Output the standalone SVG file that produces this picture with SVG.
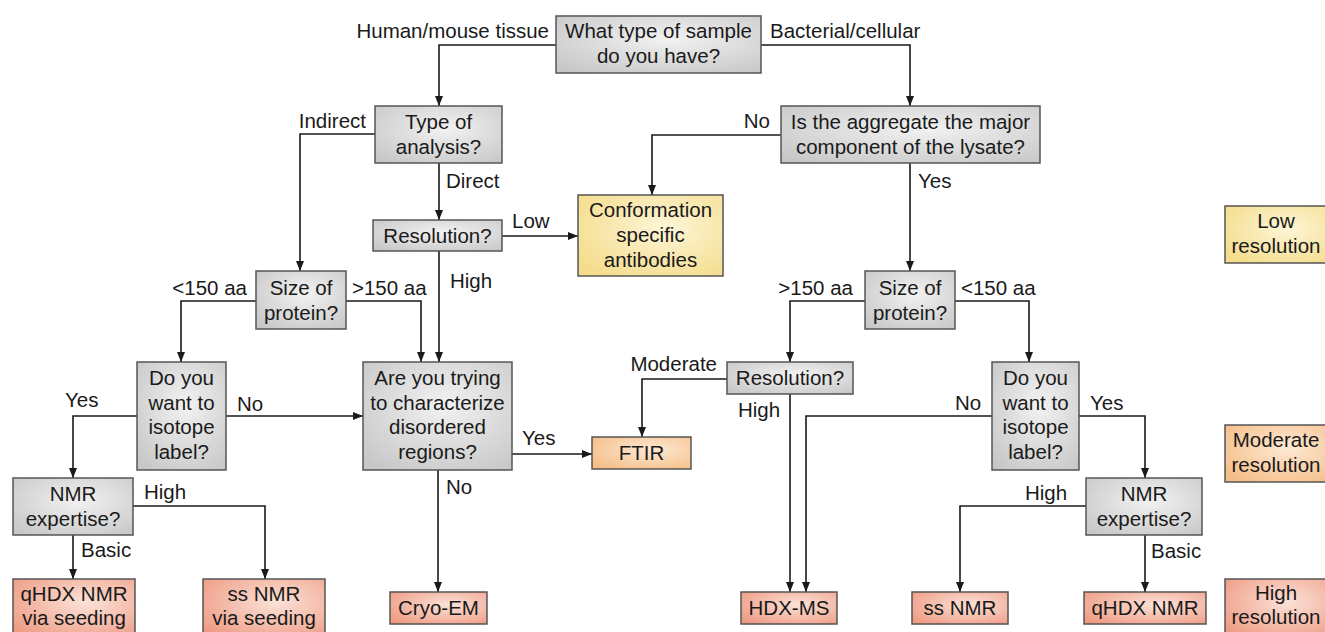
<svg xmlns="http://www.w3.org/2000/svg" width="1325" height="632" viewBox="0 0 1325 632">
<defs>
  <radialGradient id="gGray" cx="0.55" cy="0.4" r="0.75">
    <stop offset="0" stop-color="#f2f2f2"/>
    <stop offset="1" stop-color="#c6c6c6"/>
  </radialGradient>
  <radialGradient id="gYellow" cx="0.6" cy="0.4" r="0.75">
    <stop offset="0" stop-color="#fdf5d6"/>
    <stop offset="1" stop-color="#f4dc8a"/>
  </radialGradient>
  <radialGradient id="gOrange" cx="0.6" cy="0.4" r="0.75">
    <stop offset="0" stop-color="#fde9d4"/>
    <stop offset="1" stop-color="#f5bd86"/>
  </radialGradient>
  <radialGradient id="gSalmon" cx="0.6" cy="0.4" r="0.75">
    <stop offset="0" stop-color="#fbe2d8"/>
    <stop offset="1" stop-color="#ee9b83"/>
  </radialGradient>
  <marker id="arr" markerWidth="10" markerHeight="8" refX="10" refY="4" orient="auto" markerUnits="userSpaceOnUse">
    <path d="M0,0 L10,4 L0,8 z" fill="#1a1a1a"/>
  </marker>
</defs>
<style>
  .box { stroke: #555555; stroke-width: 1.5; }
  .q { fill: url(#gGray); }
  .lo { fill: url(#gYellow); }
  .mo { fill: url(#gOrange); }
  .hi { fill: url(#gSalmon); }
  text { font-family: "Liberation Sans", Arial, sans-serif; font-size: 20.5px; fill: #1a1a1a; }
  .c { text-anchor: middle; }
  .e { text-anchor: end; }
  .conn path { fill: none; stroke: #1a1a1a; stroke-width: 1.6; marker-end: url(#arr); }
</style>
<rect width="1325" height="632" fill="#ffffff"/>

<g class="conn" id="connectors">
  <path d="M556,45 H439 V106"/>
  <path d="M761,45 H910 V106"/>
  <path d="M375,134 H300 V271"/>
  <path d="M439,163 V220"/>
  <path d="M502,236 H578"/>
  <path d="M781,135 H652 V195"/>
  <path d="M910,163 V271"/>
  <path d="M439,251 V362"/>
  <path d="M256,301 H181 V362"/>
  <path d="M346,301 H421 V362"/>
  <path d="M865,301 H790 V362"/>
  <path d="M955,301 H1029 V362"/>
  <path d="M137,416 H73 V478"/>
  <path d="M226,416 H363"/>
  <path d="M512,454 H592"/>
  <path d="M438,470 V592"/>
  <path d="M727,379 H642 V437"/>
  <path d="M790,394 V592"/>
  <path d="M992,416 H806 V592"/>
  <path d="M1079,416 H1145 V478"/>
  <path d="M133,506 H265 V579"/>
  <path d="M73,535 V579"/>
  <path d="M1086,506 H960 V592"/>
  <path d="M1145,535 V592"/>
</g>

<g id="edge-labels">
  <text class="e" x="549" y="38">Human/mouse tissue</text>
  <text x="770" y="38">Bacterial/cellular</text>
  <text class="e" x="366" y="128">Indirect</text>
  <text class="e" x="770" y="128">No</text>
  <text x="446" y="188">Direct</text>
  <text x="918" y="188">Yes</text>
  <text x="512" y="228">Low</text>
  <text class="e" x="247" y="295">&lt;150 aa</text>
  <text x="352" y="295">&gt;150 aa</text>
  <text x="450" y="288">High</text>
  <text class="e" x="853" y="295">&gt;150 aa</text>
  <text x="961" y="295">&lt;150 aa</text>
  <text class="e" x="717" y="371">Moderate</text>
  <text x="738" y="417">High</text>
  <text x="65" y="407">Yes</text>
  <text x="237" y="411">No</text>
  <text x="522" y="445">Yes</text>
  <text x="446" y="494">No</text>
  <text x="955" y="410">No</text>
  <text x="1090" y="410">Yes</text>
  <text x="144" y="499">High</text>
  <text x="81" y="557">Basic</text>
  <text x="1025" y="500">High</text>
  <text x="1151" y="558">Basic</text>
</g>

<g id="q_sample"><rect class="box q" x="556" y="16" width="205" height="57"/>
  <text class="c" x="658.5" y="38">What type of sample<tspan x="658.5" dy="25">do you have?</tspan></text></g>
<g id="q_analysis"><rect class="box q" x="375" y="106" width="127" height="57"/>
  <text class="c" x="438.5" y="129">Type of<tspan x="438.5" dy="25">analysis?</tspan></text></g>
<g id="q_aggregate"><rect class="box q" x="781" y="106" width="259" height="57"/>
  <text class="c" x="910.5" y="129">Is the aggregate the major<tspan x="910.5" dy="25">component of the lysate?</tspan></text></g>
<g id="q_resolution_left"><rect class="box q" x="373" y="220" width="129" height="31"/>
  <text class="c" x="437.5" y="242.5">Resolution?</text></g>
<g id="r_conformation"><rect class="box lo" x="578" y="195" width="145" height="81"/>
  <text class="c" x="650.5" y="217">Conformation<tspan x="650.5" dy="25">specific</tspan><tspan x="650.5" dy="25">antibodies</tspan></text></g>
<g id="q_size_left"><rect class="box q" x="256" y="271" width="90" height="58"/>
  <text class="c" x="301" y="294.5">Size of<tspan x="301" dy="25">protein?</tspan></text></g>
<g id="q_size_right"><rect class="box q" x="865" y="271" width="90" height="58"/>
  <text class="c" x="910" y="294.5">Size of<tspan x="910" dy="25">protein?</tspan></text></g>
<g id="q_isotope_left"><rect class="box q" x="137" y="362" width="89" height="108"/>
  <text class="c" x="181.5" y="385">Do you<tspan x="181.5" dy="24.5">want to</tspan><tspan x="181.5" dy="24.5">isotope</tspan><tspan x="181.5" dy="24.5">label?</tspan></text></g>
<g id="q_disordered"><rect class="box q" x="363" y="362" width="149" height="108"/>
  <text class="c" x="437.5" y="385">Are you trying<tspan x="437.5" dy="24.5">to characterize</tspan><tspan x="437.5" dy="24.5">disordered</tspan><tspan x="437.5" dy="24.5">regions?</tspan></text></g>
<g id="q_resolution_right"><rect class="box q" x="727" y="362" width="126" height="32"/>
  <text class="c" x="790" y="385">Resolution?</text></g>
<g id="q_isotope_right"><rect class="box q" x="992" y="362" width="87" height="108"/>
  <text class="c" x="1035.5" y="385">Do you<tspan x="1035.5" dy="24.5">want to</tspan><tspan x="1035.5" dy="24.5">isotope</tspan><tspan x="1035.5" dy="24.5">label?</tspan></text></g>
<g id="r_ftir"><rect class="box mo" x="592" y="437" width="99" height="32"/>
  <text class="c" x="641.5" y="460">FTIR</text></g>
<g id="q_nmr_left"><rect class="box q" x="13" y="478" width="120" height="57"/>
  <text class="c" x="73" y="501">NMR<tspan x="73" dy="25">expertise?</tspan></text></g>
<g id="q_nmr_right"><rect class="box q" x="1086" y="478" width="116" height="57"/>
  <text class="c" x="1144" y="501">NMR<tspan x="1144" dy="25">expertise?</tspan></text></g>
<g id="r_qhdx_seeding"><rect class="box hi" x="13" y="579" width="122" height="58"/>
  <text class="c" x="74" y="601">qHDX NMR<tspan x="74" dy="24">via seeding</tspan></text></g>
<g id="r_ss_seeding"><rect class="box hi" x="203" y="579" width="122" height="58"/>
  <text class="c" x="264" y="601">ss NMR<tspan x="264" dy="24">via seeding</tspan></text></g>
<g id="r_cryoem"><rect class="box hi" x="390" y="592" width="97" height="32"/>
  <text class="c" x="438.5" y="615">Cryo-EM</text></g>
<g id="r_hdxms"><rect class="box hi" x="741" y="592" width="96" height="32"/>
  <text class="c" x="789" y="615">HDX-MS</text></g>
<g id="r_ssnmr"><rect class="box hi" x="912" y="592" width="96" height="32"/>
  <text class="c" x="960" y="615">ss NMR</text></g>
<g id="r_qhdx"><rect class="box hi" x="1084" y="592" width="122" height="32"/>
  <text class="c" x="1145" y="615">qHDX NMR</text></g>

<g id="legend_low"><rect class="box lo" x="1225" y="206" width="104" height="57"/>
  <text class="c" x="1276" y="228">Low<tspan x="1276" dy="25">resolution</tspan></text></g>
<g id="legend_moderate"><rect class="box mo" x="1225" y="425" width="104" height="57"/>
  <text class="c" x="1276" y="447">Moderate<tspan x="1276" dy="25">resolution</tspan></text></g>
<g id="legend_high"><rect class="box hi" x="1225" y="579" width="104" height="58"/>
  <text class="c" x="1276" y="600">High<tspan x="1276" dy="24">resolution</tspan></text></g>
</svg>
